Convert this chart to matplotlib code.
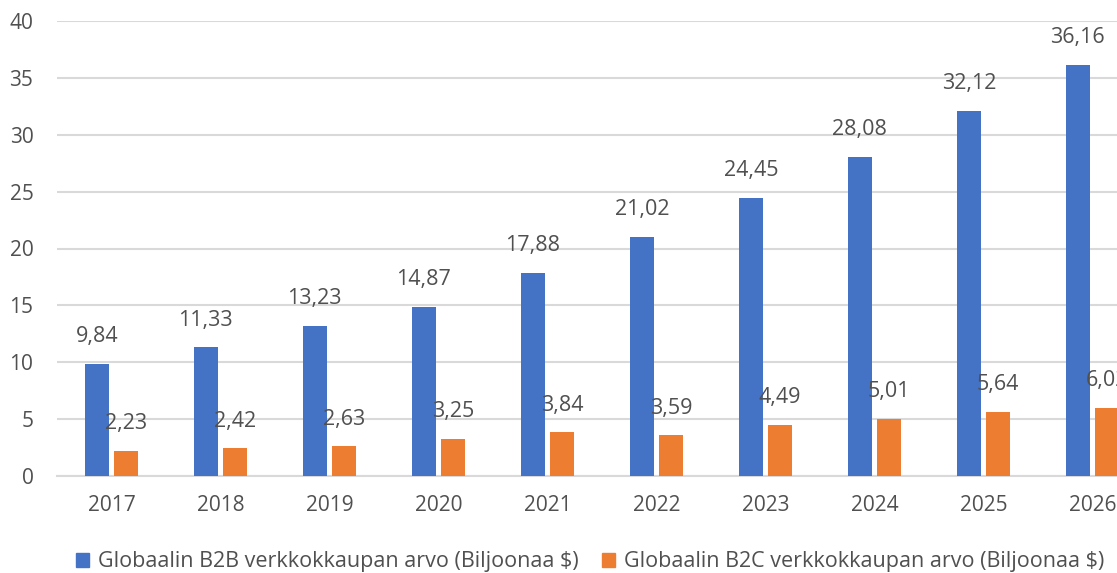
import matplotlib
matplotlib.use("Agg")
import matplotlib.pyplot as plt
import numpy as np
from matplotlib.patches import Patch

years = ["2017", "2018", "2019", "2020", "2021", "2022", "2023", "2024", "2025", "2026"]
b2b = [9.84, 11.33, 13.23, 14.87, 17.88, 21.02, 24.45, 28.08, 32.12, 36.16]
b2c = [2.23, 2.42, 2.63, 3.25, 3.84, 3.59, 4.49, 5.01, 5.64, 6.02]
series_names = ["Globaalin B2B verkkokkaupan arvo (Biljoonaa $)",
                "Globaalin B2C verkkokkaupan arvo (Biljoonaa $)"]
yticks = [0, 5, 10, 15, 20, 25, 30, 35, 40]

BLUE = "#4472C4"
ORANGE = "#ED7D31"
TXT = "#505050"
GRID = "#D9D9D9"

plt.rcParams['font.family'] = ['Open Sans', 'DejaVu Sans']

fig = plt.figure(figsize=(11.17, 5.73), dpi=100)
ax = fig.add_axes([57/1117, 1-476/573, 1090/1117, 455/573])

x = np.arange(len(years))
w = 0.225
off = 0.135
bars1 = ax.bar(x - off, b2b, w, color=BLUE, zorder=3)
bars2 = ax.bar(x + off, b2c, w, color=ORANGE, zorder=3)

def fmt(v):
    return f"{v:.2f}".replace(".", ",")

for bars, vals in ((bars1, b2b), (bars2, b2c)):
    for b, v in zip(bars, vals):
        ax.annotate(fmt(v), (b.get_x() + b.get_width()/2, v),
                    xytext=(0, 19.5), textcoords="offset points",
                    ha="center", va="center", fontsize=15.5, color=TXT,
                    annotation_clip=False, zorder=4)

ax.set_xlim(-0.5, len(years) - 0.5)
ax.set_ylim(0, 40)
ax.set_yticks(yticks)
ax.set_yticklabels([str(t) for t in yticks])
ax.set_xticks(x)
ax.set_xticklabels(years)
ax.yaxis.grid(True, color=GRID, linewidth=1.5, zorder=0)
ax.set_axisbelow(True)
for s in ("top", "right", "left"):
    ax.spines[s].set_visible(False)
ax.spines["bottom"].set_color(GRID)
ax.spines["bottom"].set_linewidth(1.5)
ax.tick_params(axis="both", length=0, labelsize=15, colors=TXT)
ax.tick_params(axis="y", pad=17)
ax.tick_params(axis="x", pad=14)

handles = [Patch(color=BLUE), Patch(color=ORANGE)]
fig.legend(handles, series_names, loc="center", bbox_to_anchor=(590/1117, 1-562/573),
           ncol=2, frameon=False, fontsize=15.5, labelcolor=TXT,
           handlelength=0.6, handleheight=0.6, handletextpad=0.4, columnspacing=1.1)

fig.savefig("out.png", dpi=100)
